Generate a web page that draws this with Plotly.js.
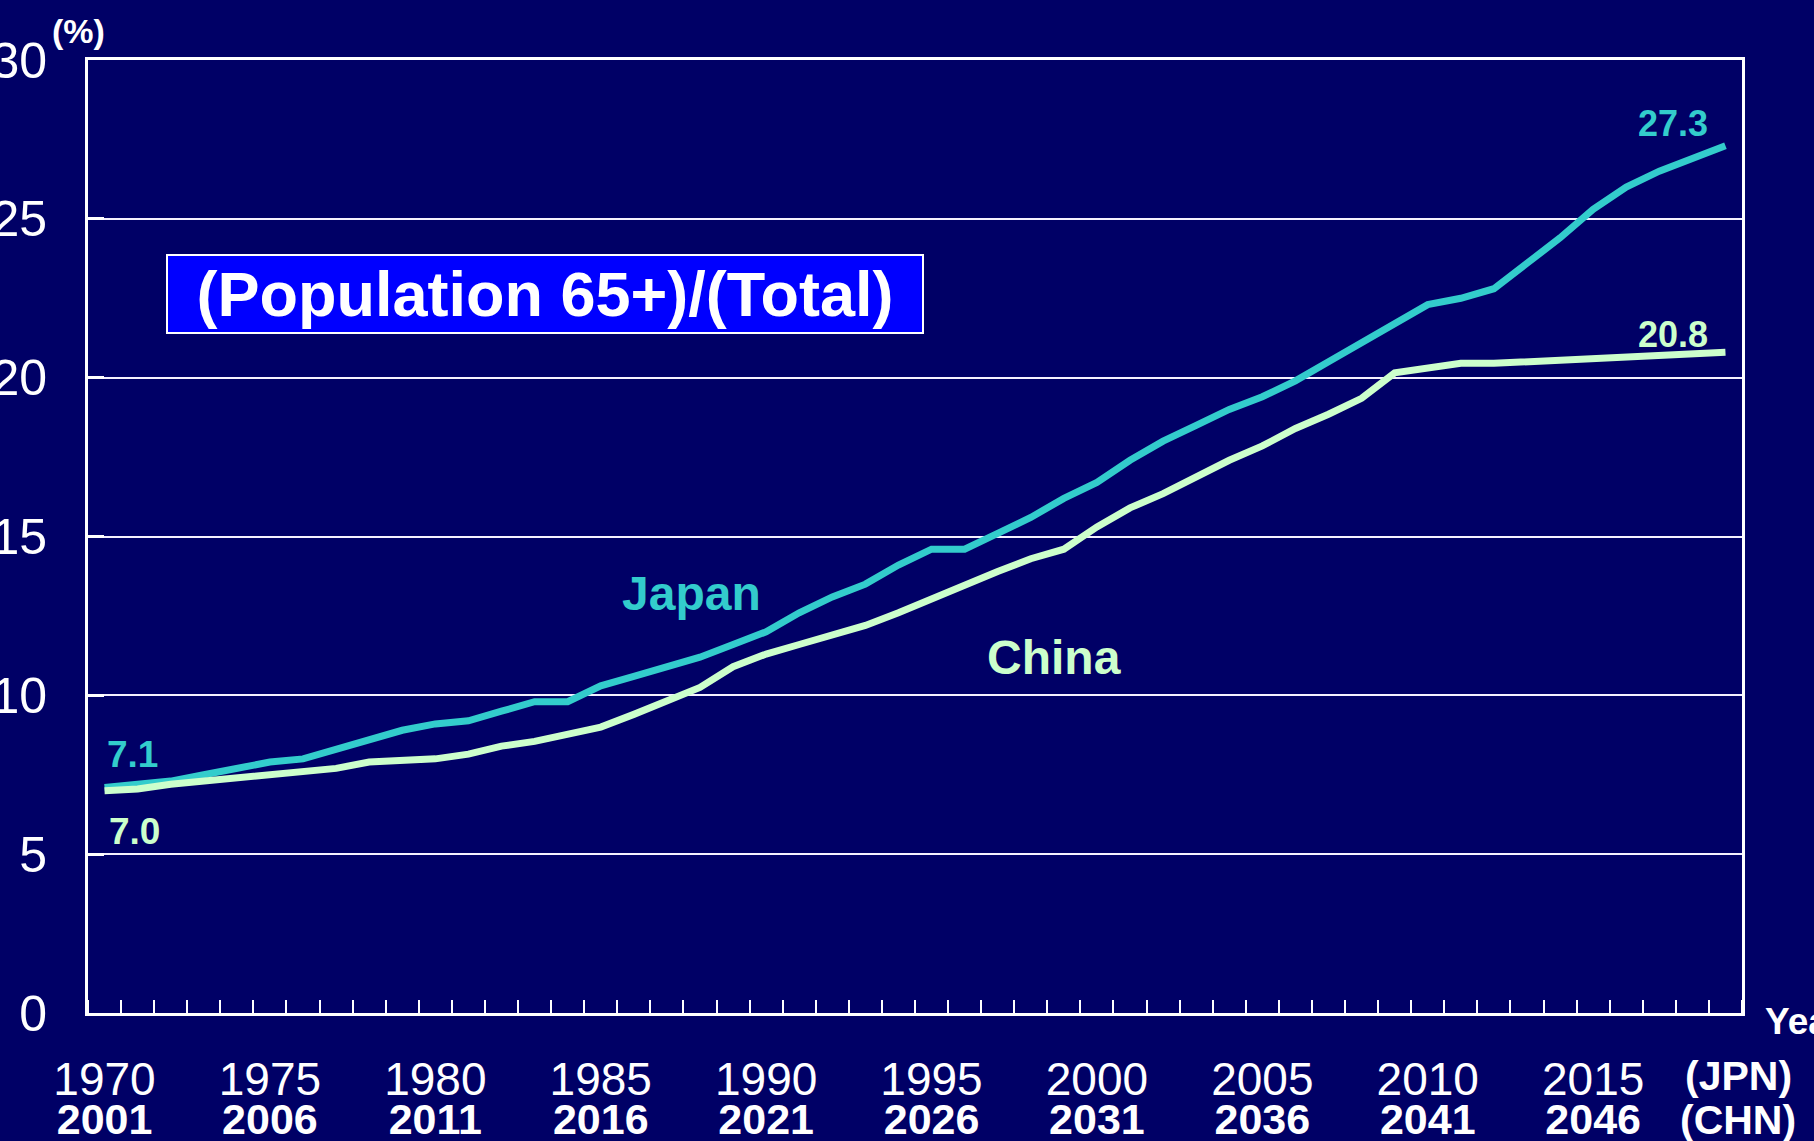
<!DOCTYPE html>
<html>
<head>
<meta charset="utf-8">
<script src="https://cdn.plot.ly/plotly-3.0.1.min.js"></script>
<style>
  html, body { margin: 0; padding: 0; background: #000066; }
  #chart { width: 1814px; height: 1141px; }
</style>
</head>
<body>
<div id="chart"></div>
<script>
// ---- Data ----
const yearsJPN = [1970,1971,1972,1973,1974,1975,1976,1977,1978,1979,
                  1980,1981,1982,1983,1984,1985,1986,1987,1988,1989,
                  1990,1991,1992,1993,1994,1995,1996,1997,1998,1999,
                  2000,2001,2002,2003,2004,2005,2006,2007,2008,2009,
                  2010,2011,2012,2013,2014,2015,2016,2017,2018,2019];
const yearsCHN = [2001,2002,2003,2004,2005,2006,2007,2008,2009,2010,
                  2011,2012,2013,2014,2015,2016,2017,2018,2019,2020,
                  2021,2022,2023,2024,2025,2026,2027,2028,2029,2030,
                  2031,2032,2033,2034,2035,2036,2037,2038,2039,2040,
                  2041,2042,2043,2044,2045,2046,2047,2048,2049,2050];
const japan = [7.1,7.2,7.3,7.5,7.7,7.9,8.0,8.3,8.6,8.9,
               9.1,9.2,9.5,9.8,9.8,10.3,10.6,10.9,11.2,11.6,
               12.0,12.6,13.1,13.5,14.1,14.6,14.6,15.1,15.6,16.2,
               16.7,17.4,18.0,18.5,19.0,19.4,19.9,20.5,21.1,21.7,
               22.3,22.5,22.8,23.6,24.4,25.3,26.0,26.5,26.9,27.3];
const china = [7.0,7.05,7.2,7.3,7.4,7.55,7.65,7.7,7.9,7.95,
               8.0,8.15,8.4,8.55,8.8,9.0,9.4,9.8,10.25,10.9,
               11.3,11.6,11.9,12.2,12.6,13.05,13.45,13.9,14.3,14.6,
               15.3,15.9,16.35,16.9,17.4,17.85,18.4,18.85,19.35,20.15,
               20.3,20.45,20.45,20.5,20.55,20.6,20.65,20.7,20.7,20.8];
const tickJPN = [1970,1975,1980,1985,1990,1995,2000,2005,2010,2015];
const tickCHN = [2001,2006,2011,2016,2021,2026,2031,2036,2041,2046];
const yTicks = [0,5,10,15,20,25,30];

// ---- Styles ----
const BG = '#000066';
const JCOL = '#33CCCC';
const CCOL = '#CCFFCC';
const ARIAL = '"Liberation Sans", Arial, Helvetica, sans-serif';

const traces = [
  { x: yearsJPN, y: japan, type: 'scatter', mode: 'lines', name: 'Japan',
    xaxis: 'x', yaxis: 'y',
    line: { color: JCOL, width: 7, shape: 'linear' } },
  { x: yearsCHN, y: china, type: 'scatter', mode: 'lines', name: 'China',
    xaxis: 'x2', yaxis: 'y',
    line: { color: CCOL, width: 7, shape: 'linear' } }
];

const layout = {
  width: 1814, height: 1141,
  paper_bgcolor: BG, plot_bgcolor: BG,
  margin: { l: 88, r: 72, t: 60, b: 128, pad: 0 },
  showlegend: false,
  hovermode: false,
  xaxis: {
    range: [1969.5, 2019.5], fixedrange: true,
    tickmode: 'array', tickvals: tickJPN, ticktext: tickJPN.map(String),
    ticks: '', showgrid: false, zeroline: false,
    showline: true, mirror: true, linecolor: 'white', linewidth: 3,
    tickfont: { family: ARIAL, size: 46, color: 'white' },
    ticklabelstandoff: 24,
    minor: { tickmode: 'linear', tick0: 1969.5, dtick: 1, ticks: 'inside',
             ticklen: 13, tickwidth: 2, tickcolor: 'white', showgrid: false },
    automargin: false
  },
  xaxis2: {
    overlaying: 'x', anchor: 'y', side: 'bottom',
    range: [2000.5, 2050.5], fixedrange: true,
    tickmode: 'array', tickvals: tickCHN,
    ticktext: tickCHN.map(v => '<b>' + v + '</b>'),
    ticks: '', showgrid: false, zeroline: false, showline: false,
    tickfont: { family: ARIAL, size: 43, color: 'white' },
    ticklabelstandoff: 77,
    automargin: false
  },
  yaxis: {
    range: [0, 30], fixedrange: true,
    tickmode: 'array', tickvals: yTicks, ticktext: yTicks.map(String),
    ticks: 'inside', ticklen: 16, tickwidth: 3, tickcolor: 'white',
    showgrid: true, gridcolor: '#F4F0FF', gridwidth: 2,
    zeroline: false,
    showline: true, mirror: true, linecolor: 'white', linewidth: 3,
    tickfont: { family: ARIAL, size: 50, color: 'white' },
    ticklabelstandoff: 28,
    automargin: false
  },
  annotations: [
    { text: '(Population 65+)/(Total)', xref: 'paper', yref: 'paper',
      x: 0.276, y: 0.7545, xanchor: 'center', yanchor: 'middle', showarrow: false,
      font: { family: ARIAL, size: 63, color: 'white', weight: 'bold' },
      bgcolor: '#0000FF', bordercolor: 'white', borderwidth: 2, borderpad: 0,
      width: 754, height: 76 },
    { text: '<b>Japan</b>', xref: 'x', yref: 'y', x: 1987.73, y: 13.2,
      showarrow: false, xanchor: 'center', yanchor: 'middle',
      font: { family: ARIAL, size: 48, color: JCOL } },
    { text: '<b>China</b>', xref: 'x', yref: 'y', x: 1998.7, y: 11.2,
      showarrow: false, xanchor: 'center', yanchor: 'middle',
      font: { family: ARIAL, size: 48, color: CCOL } },
    { text: '<b>27.3</b>', xref: 'x', yref: 'y', x: 2017.4, y: 28.0,
      showarrow: false, xanchor: 'center', yanchor: 'middle',
      font: { family: ARIAL, size: 36, color: JCOL } },
    { text: '<b>20.8</b>', xref: 'x', yref: 'y', x: 2017.4, y: 21.35,
      showarrow: false, xanchor: 'center', yanchor: 'middle',
      font: { family: ARIAL, size: 36, color: CCOL } },
    { text: '<b>7.1</b>', xref: 'x', yref: 'y', x: 1970.86, y: 8.15,
      showarrow: false, xanchor: 'center', yanchor: 'middle',
      font: { family: ARIAL, size: 37, color: JCOL } },
    { text: '<b>7.0</b>', xref: 'x', yref: 'y', x: 1970.92, y: 5.7,
      showarrow: false, xanchor: 'center', yanchor: 'middle',
      font: { family: ARIAL, size: 37, color: CCOL } },
    { text: '<b>(%)</b>', xref: 'paper', yref: 'paper', x: -0.006, y: 1.03,
      showarrow: false, xanchor: 'center', yanchor: 'middle',
      font: { family: ARIAL, size: 34, color: 'white' } },
    { text: '<b>Year</b>', xref: 'paper', yref: 'paper', x: 1.0127, y: -0.0084,
      showarrow: false, xanchor: 'left', yanchor: 'middle',
      font: { family: ARIAL, size: 37, color: 'white' } },
    { text: '<b>(JPN)</b>', xref: 'paper', yref: 'paper', x: 0.9976, y: -0.066,
      showarrow: false, xanchor: 'center', yanchor: 'middle',
      font: { family: ARIAL, size: 41, color: 'white' } },
    { text: '<b>(CHN)</b>', xref: 'paper', yref: 'paper', x: 0.9976, y: -0.112,
      showarrow: false, xanchor: 'center', yanchor: 'middle',
      font: { family: ARIAL, size: 41, color: 'white' } }
  ]
};

Plotly.newPlot('chart', traces, layout, { staticPlot: true, displayModeBar: false });
</script>
</body>
</html>
